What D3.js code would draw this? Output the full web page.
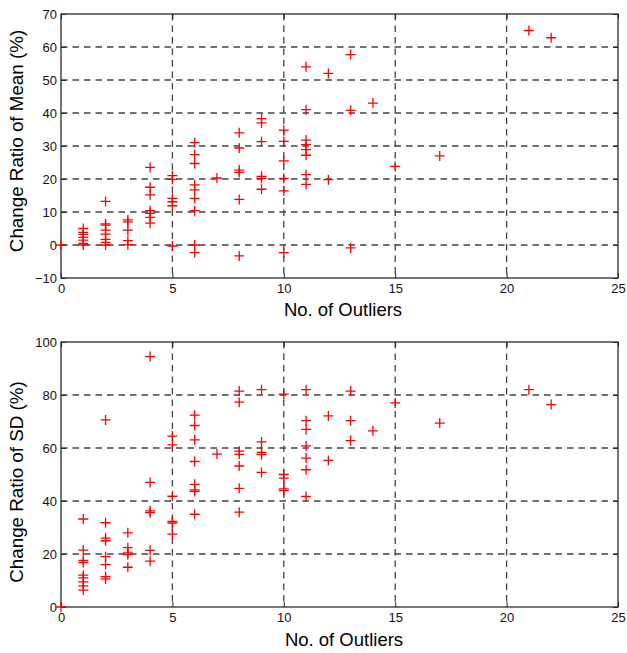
<!DOCTYPE html>
<html>
<head>
<meta charset="utf-8">
<script src="https://cdn.jsdelivr.net/npm/d3@7"></script>
<style>
  html, body { margin: 0; padding: 0; background: #fff; }
  svg { display: block; font-family: "Liberation Sans", Arial, Helvetica, sans-serif; }
</style>
</head>
<body>
<svg id="chart" width="627" height="653"></svg>
<script>
// Change ratio of the mean (%) against number of outliers
const meanOutliers = [
  0,
  1, 1, 1, 1, 1, 1, 1,
  2, 2, 2, 2, 2, 2, 2, 2,
  3, 3, 3, 3, 3,
  4, 4, 4, 4, 4, 4, 4,
  5, 5, 5, 5, 5, 5,
  6, 6, 6, 6, 6, 6, 6, 6, 6,
  7,
  8, 8, 8, 8, 8, 8,
  9, 9, 9, 9, 9, 9,
  10, 10, 10, 10, 10, 10,
  11, 11, 11, 11, 11, 11, 11, 11,
  12, 12,
  13, 13, 13,
  14, 15, 17, 21, 22
];
const meanChange = [
  0,
  5.0, 3.8, 3.2, 2.3, 1.5, 0.5, 0.0,
  13.2, 6.4, 6.0, 4.5, 3.3, 1.7, 0.8, 0.0,
  7.6, 7.0, 4.5, 1.3, 0.1,
  23.5, 17.5, 15.2, 10.4, 9.6, 8.4, 6.6,
  21.0, 19.9, 14.1, 13.1, 11.9, -0.3,
  31.0, 27.4, 24.7, 18.2, 16.7, 14.1, 10.4, 0.0, -2.3,
  20.3,
  34.0, 29.4, 22.7, 22.0, 13.8, -3.3,
  38.3, 37.0, 31.3, 20.8, 20.2, 16.9,
  34.8, 31.4, 25.5, 20.2, 16.4, -2.3,
  54.0, 41.0, 31.8, 30.4, 28.9, 27.2, 21.3, 18.4,
  52.0, 19.8,
  57.7, 40.8, -0.9,
  43.0, 23.8, 27.0, 65.0, 62.8
];

// Change ratio of the standard deviation (%) against number of outliers
const sdOutliers = [
  0,
  1, 1, 1, 1, 1, 1, 1, 1, 1,
  2, 2, 2, 2, 2, 2, 2, 2,
  3, 3, 3, 3, 3,
  4, 4, 4, 4, 4, 4,
  5, 5, 5, 5, 5, 5,
  6, 6, 6, 6, 6, 6, 6, 6,
  7,
  8, 8, 8, 8, 8, 8, 8,
  9, 9, 9, 9, 9,
  10, 10, 10, 10, 10,
  11, 11, 11, 11, 11, 11, 11,
  12, 12,
  13, 13, 13,
  14, 15, 17, 21, 22
];
const sdChange = [
  0,
  33.2, 21.5, 17.6, 16.8, 12.0, 11.0, 9.5, 8.0, 6.4,
  70.6, 31.8, 26.0, 25.0, 19.0, 16.0, 11.5, 10.6,
  28.0, 22.4, 20.4, 19.8, 15.0,
  94.5, 47.0, 36.3, 35.6, 21.4, 17.3,
  64.5, 61.2, 41.8, 32.3, 31.7, 27.5,
  72.4, 68.5, 63.1, 54.9, 46.3, 44.2, 43.6, 35.0,
  57.7,
  81.5, 77.3, 58.8, 57.6, 53.2, 44.8, 35.8,
  82.0, 62.3, 58.3, 57.5, 50.8,
  80.3, 50.0, 48.6, 44.6, 43.9,
  82.0, 70.3, 67.0, 60.8, 56.2, 51.8, 41.7,
  72.1, 55.3,
  81.5, 70.3, 62.8,
  66.5, 77.0, 69.4, 82.0, 76.4
];

const xTicks = [0, 5, 10, 15, 20, 25];
const meanTicks = [-10, 0, 10, 20, 30, 40, 50, 60, 70];
const sdTicks = [0, 20, 40, 60, 80, 100];

const xLabel = "No. of Outliers";
const meanLabel = "Change Ratio of Mean (%)";
const sdLabel = "Change Ratio of SD (%)";

const svg = d3.select("#chart");
const left = 61, right = 618;
const axisColor = "#2b2b2b";
const gridColor = "#444";

function drawPanel(cfg) {
  const x = d3.scaleLinear().domain([0, 25]).range([left, right]);
  const y = d3.scaleLinear().domain(cfg.yDomain).range([cfg.bottom, cfg.top]);
  const g = svg.append("g");

  // dashed grid at interior ticks
  const grid = g.append("g").attr("stroke", gridColor).attr("stroke-width", 1.3)
    .attr("stroke-dasharray", "6.5,5").attr("fill", "none");
  grid.selectAll("line.v").data(xTicks.slice(1, -1)).join("line")
    .attr("x1", d => x(d)).attr("x2", d => x(d))
    .attr("y1", cfg.top).attr("y2", cfg.bottom);
  grid.selectAll("line.h").data(cfg.yTicks.slice(1, -1)).join("line")
    .attr("x1", left).attr("x2", right)
    .attr("y1", d => y(d)).attr("y2", d => y(d));

  // axes with inward ticks
  const fmt = d3.format("d");
  const ax = g.append("g").attr("transform", `translate(0,${cfg.bottom})`)
    .call(d3.axisBottom(x).tickValues(xTicks).tickFormat(fmt).tickSize(-5).tickPadding(6));
  const ay = g.append("g").attr("transform", `translate(${left},0)`)
    .call(d3.axisLeft(y).tickValues(cfg.yTicks).tickFormat(fmt).tickSize(-5).tickPadding(4));
  const at = g.append("g").attr("transform", `translate(0,${cfg.top})`)
    .call(d3.axisTop(x).tickValues(xTicks).tickFormat("").tickSize(-5));
  const ar = g.append("g").attr("transform", `translate(${right},0)`)
    .call(d3.axisRight(y).tickValues(cfg.yTicks).tickFormat("").tickSize(-5));
  [ax, ay, at, ar].forEach(a => {
    a.select(".domain").remove();
    a.selectAll(".tick line").attr("stroke", axisColor);
    a.selectAll("text").attr("fill", "#111").style("font-size", "13px")
      .style("font-family", '"Liberation Sans", Arial, sans-serif');
  });

  // surrounding box
  g.append("rect").attr("x", left).attr("y", cfg.top)
    .attr("width", right - left).attr("height", cfg.bottom - cfg.top)
    .attr("fill", "none").attr("stroke", axisColor).attr("stroke-width", 1.3);

  // plus markers
  const arm = 5;
  const pts = cfg.xs.map((d, i) => [d, cfg.ys[i]]);
  const m = g.append("g").attr("stroke", "#ff0000").attr("stroke-width", 1.3).attr("fill", "none");
  m.selectAll("path").data(pts).join("path")
    .attr("d", d => {
      const px = x(d[0]), py = y(d[1]);
      return `M${px - arm},${py}H${px + arm}M${px},${py - arm}V${py + arm}`;
    });

  // axis titles
  g.append("text").attr("x", cfg.xLabelX).attr("y", cfg.xLabelY)
    .attr("text-anchor", "middle").style("font-size", "18.5px").attr("fill", "#000")
    .text(xLabel);
  g.append("text")
    .attr("transform", `translate(${cfg.yLabelX},${cfg.yLabelY}) rotate(-90)`)
    .attr("text-anchor", "middle").style("font-size", "18.8px").attr("fill", "#000")
    .text(cfg.yLabel);
}

drawPanel({
  top: 14, bottom: 278, yDomain: [-10, 70], yTicks: meanTicks,
  xs: meanOutliers, ys: meanChange, yLabel: meanLabel,
  xLabelX: 343, xLabelY: 315.5, yLabelX: 23, yLabelY: 141
});

drawPanel({
  top: 342, bottom: 607, yDomain: [0, 100], yTicks: sdTicks,
  xs: sdOutliers, ys: sdChange, yLabel: sdLabel,
  xLabelX: 344, xLabelY: 646, yLabelX: 23, yLabelY: 482
});
</script>
</body>
</html>
